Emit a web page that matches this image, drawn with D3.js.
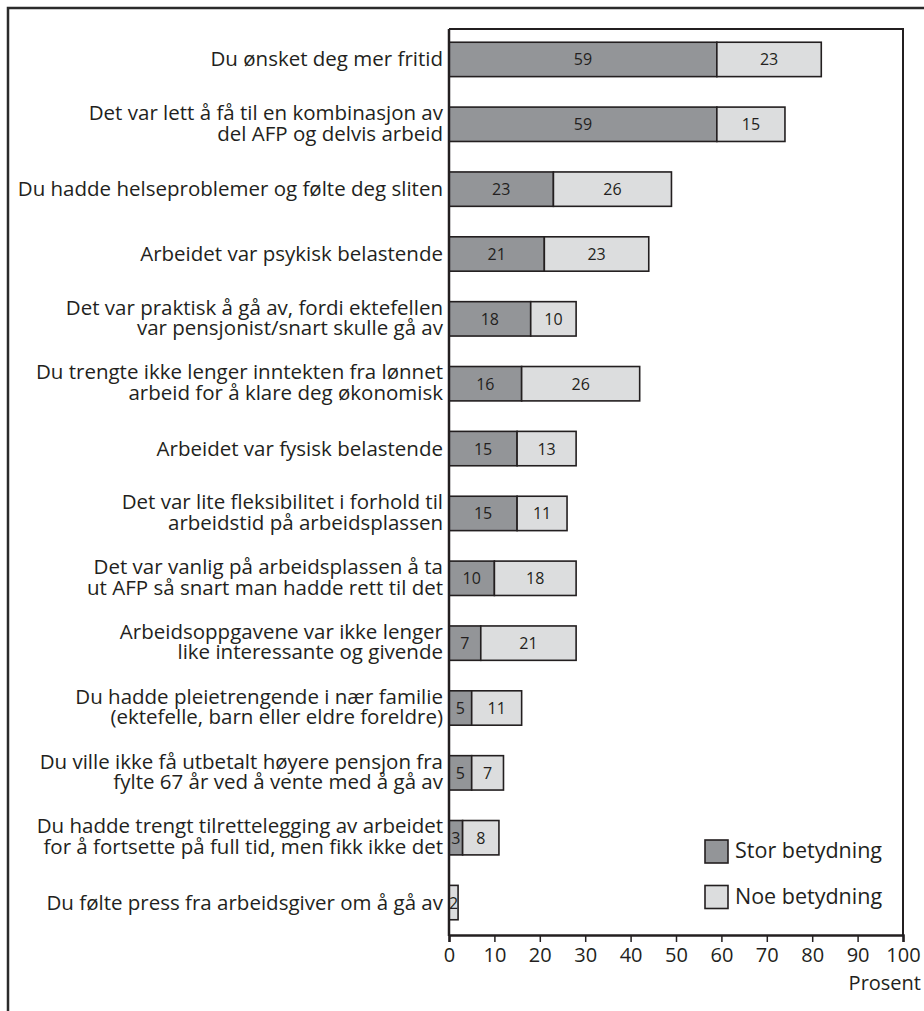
<!DOCTYPE html>
<html>
<head>
<meta charset="utf-8">
<script src="https://cdn.jsdelivr.net/npm/d3@7"></script>
<style>
  html, body { margin: 0; padding: 0; background: #fff; }
  svg { display: block; }
  text { font-family: "Open Sans", "Noto Sans", sans-serif; fill: #231f20; }
</style>
</head>
<body>
<script>
// ---- data ----
const categories = [
  ["Du ønsket deg mer fritid"],
  ["Det var lett å få til en kombinasjon av", "del AFP og delvis arbeid"],
  ["Du hadde helseproblemer og følte deg sliten"],
  ["Arbeidet var psykisk belastende"],
  ["Det var praktisk å gå av, fordi ektefellen", "var pensjonist/snart skulle gå av"],
  ["Du trengte ikke lenger inntekten fra lønnet", "arbeid for å klare deg økonomisk"],
  ["Arbeidet var fysisk belastende"],
  ["Det var lite fleksibilitet i forhold til", "arbeidstid på arbeidsplassen"],
  ["Det var vanlig på arbeidsplassen å ta", "ut AFP så snart man hadde rett til det"],
  ["Arbeidsoppgavene var ikke lenger", "like interessante og givende"],
  ["Du hadde pleietrengende i nær familie", "(ektefelle, barn eller eldre foreldre)"],
  ["Du ville ikke få utbetalt høyere pensjon fra", "fylte 67 år ved å vente med å gå av"],
  ["Du hadde trengt tilrettelegging av arbeidet", "for å fortsette på full tid, men fikk ikke det"],
  ["Du følte press fra arbeidsgiver om å gå av"]
];
const storBetydning = [59, 59, 23, 21, 18, 16, 15, 15, 10, 7, 5, 5, 3, 0];
const noeBetydning  = [23, 15, 26, 23, 10, 26, 13, 11, 18, 21, 11, 7, 8, 2];
const seriesNames = ["Stor betydning", "Noe betydning"];
const xTicks = [0, 10, 20, 30, 40, 50, 60, 70, 80, 90, 100];
const xAxisTitle = "Prosent";

// ---- layout ----
const W = 924, H = 1011;
const colors = ["#939598", "#dcddde"];
const stroke = "#231f20";

const svg = d3.select("body").append("svg").attr("width", W).attr("height", H);

// outer frame
svg.append("path")
  .attr("d", `M8,${H + 5} L8,8 L${W + 5},8`)
  .attr("fill", "none").attr("stroke", "#2b2b2b").attr("stroke-width", 2.5);

const x = d3.scaleLinear().domain([0, 100]).range([449, 903]);
const y = d3.scaleBand().domain(d3.range(categories.length))
  .range([27, 935]).paddingInner(0.47).paddingOuter(0.235);

// plot box (top + right)
svg.append("path")
  .attr("d", `M${x(0)},29 L${x(100)},29 L${x(100)},935`)
  .attr("fill", "none").attr("stroke", stroke).attr("stroke-width", 2);

const rows = categories.map((c, i) => ({ i, lines: c, a: storBetydning[i], b: noeBetydning[i] }));

// bars
const g = svg.append("g");
rows.forEach(r => {
  const segs = [
    { x0: 0, x1: r.a, v: r.a, c: colors[0] },
    { x0: r.a, x1: r.a + r.b, v: r.b, c: colors[1] }
  ].filter(s => s.v > 0);
  segs.forEach(s => {
    g.append("rect")
      .attr("x", x(s.x0)).attr("y", y(r.i))
      .attr("width", x(s.x1) - x(s.x0)).attr("height", y.bandwidth())
      .attr("fill", s.c).attr("stroke", stroke).attr("stroke-width", 1.6);
    g.append("text")
      .attr("x", (x(s.x0) + x(s.x1)) / 2)
      .attr("y", y(r.i) + y.bandwidth() / 2 + 6)
      .attr("text-anchor", "middle")
      .attr("font-size", 16)
      .text(s.v);
  });
});

// category labels
rows.forEach(r => {
  const cy = y(r.i) + y.bandwidth() / 2;
  const n = r.lines.length;
  r.lines.forEach((t, k) => {
    svg.append("text")
      .attr("x", 443)
      .attr("y", cy + 7 + (k - (n - 1) / 2) * 20.5 - (n > 1 ? 1 : 0))
      .attr("text-anchor", "end")
      .attr("font-size", 20.5)
      .text(t);
  });
});

// x axis
const xAxis = d3.axisBottom(x).tickValues(xTicks).tickSize(7).tickPadding(6).tickFormat(d3.format("d"));
const ax = svg.append("g").attr("transform", "translate(0,935)").call(xAxis);
ax.select(".domain").attr("stroke", stroke).attr("stroke-width", 2.5);
ax.selectAll(".tick line").attr("stroke", stroke).attr("stroke-width", 1.5);
ax.selectAll(".tick text").attr("font-size", 20).attr("font-family", "Open Sans, sans-serif").attr("fill", stroke);

// left axis line
svg.append("line").attr("x1", x(0)).attr("x2", x(0)).attr("y1", 29).attr("y2", 936)
  .attr("stroke", stroke).attr("stroke-width", 2.5);

svg.append("text").attr("x", 921).attr("y", 990).attr("text-anchor", "end")
  .attr("font-size", 20).text(xAxisTitle);

// legend
const leg = svg.append("g");
seriesNames.forEach((name, k) => {
  const ly = 840 + k * 45.5;
  leg.append("rect").attr("x", 705).attr("y", ly).attr("width", 23).attr("height", 23)
    .attr("fill", colors[k]).attr("stroke", stroke).attr("stroke-width", 1.6);
  leg.append("text").attr("x", 735).attr("y", ly + 18).attr("font-size", 21.5).text(name);
});
</script>
</body>
</html>
